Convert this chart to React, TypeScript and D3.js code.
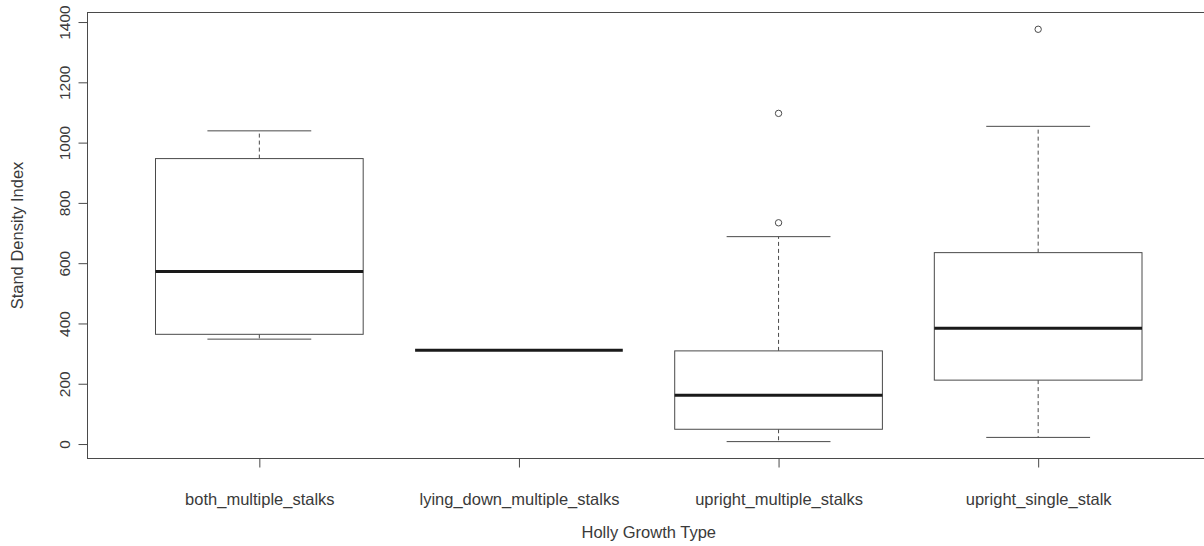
import React, { useEffect, useRef } from "react";
import * as d3 from "d3";

const categories = [
  "both_multiple_stalks",
  "lying_down_multiple_stalks",
  "upright_multiple_stalks",
  "upright_single_stalk",
];
const whiskerLow = [348, 311, 8, 22];
const q1 = [364, 311, 49, 212];
const medians = [572, 311, 162, 384];
const q3 = [947, 311, 309, 635];
const whiskerHigh = [1039, 311, 688, 1054];
const outliers = [[], [], [734, 1097], [1376]];
const yTicks = [0, 200, 400, 600, 800, 1000, 1200, 1400];

const W = 1204;
const H = 546;

const App = () => {
  const svgRef = useRef(null);

  useEffect(() => {
    drawChart();
  }, []);

  const drawChart = () => {
    const svg = d3.select(svgRef.current);
    svg.selectAll("*").remove();

    const font = "'Liberation Sans', Arial, sans-serif";
    const txt = "#3a3a3a";
    const line = "#4a4a4a";

    // R style: xlim 0.5..n+0.5 padded 4%
    const x = d3.scaleLinear().domain([0.34, 4.66]).range([88, 1209.5]);
    const y = d3.scaleLinear().domain([-48, 1430]).range([458.5, 13]);
    const unit = x(2) - x(1);
    const boxW = unit * 0.8;
    const capW = boxW / 2;

    const data = categories.map((c, i) => ({
      name: c,
      pos: i + 1,
      lo: whiskerLow[i],
      q1: q1[i],
      med: medians[i],
      q3: q3[i],
      hi: whiskerHigh[i],
      out: outliers[i],
    }));

    const g = svg.selectAll(".box").data(data).enter().append("g");

    // whiskers (dashed)
    g.append("line")
      .attr("x1", (d) => x(d.pos))
      .attr("x2", (d) => x(d.pos))
      .attr("y1", (d) => y(d.q3))
      .attr("y2", (d) => y(d.hi))
      .attr("stroke", line)
      .attr("stroke-dasharray", "4,3");
    g.append("line")
      .attr("x1", (d) => x(d.pos))
      .attr("x2", (d) => x(d.pos))
      .attr("y1", (d) => y(d.q1))
      .attr("y2", (d) => y(d.lo))
      .attr("stroke", line)
      .attr("stroke-dasharray", "4,3");

    // staples
    g.append("line")
      .attr("x1", (d) => x(d.pos) - capW / 2)
      .attr("x2", (d) => x(d.pos) + capW / 2)
      .attr("y1", (d) => y(d.hi))
      .attr("y2", (d) => y(d.hi))
      .attr("stroke", line);
    g.append("line")
      .attr("x1", (d) => x(d.pos) - capW / 2)
      .attr("x2", (d) => x(d.pos) + capW / 2)
      .attr("y1", (d) => y(d.lo))
      .attr("y2", (d) => y(d.lo))
      .attr("stroke", line);

    // boxes
    g.append("rect")
      .attr("x", (d) => x(d.pos) - boxW / 2)
      .attr("width", boxW)
      .attr("y", (d) => y(d.q3))
      .attr("height", (d) => Math.max(0, y(d.q1) - y(d.q3)))
      .attr("fill", "white")
      .attr("stroke", line);

    // medians
    g.append("line")
      .attr("x1", (d) => x(d.pos) - boxW / 2)
      .attr("x2", (d) => x(d.pos) + boxW / 2)
      .attr("y1", (d) => y(d.med))
      .attr("y2", (d) => y(d.med))
      .attr("stroke", "#1a1a1a")
      .attr("stroke-width", 3);

    // outliers
    g.selectAll("circle")
      .data((d) => d.out.map((v) => ({ pos: d.pos, v })))
      .enter()
      .append("circle")
      .attr("cx", (d) => x(d.pos))
      .attr("cy", (d) => y(d.v))
      .attr("r", 3.2)
      .attr("fill", "none")
      .attr("stroke", line);

    // plot frame (right edge falls just off the picture)
    svg
      .append("rect")
      .attr("x", 87.5)
      .attr("y", 12.5)
      .attr("width", 1210 - 87.5)
      .attr("height", 458.5 - 12.5)
      .attr("fill", "none")
      .attr("stroke", line);

    // y axis
    const yAxis = svg
      .append("g")
      .attr("transform", "translate(87.5,0)")
      .call(d3.axisLeft(y).tickValues(yTicks).tickSize(9).tickFormat(d3.format("d")));
    yAxis.select(".domain").remove();
    yAxis.selectAll("line").attr("stroke", line);
    yAxis
      .selectAll(".tick text")
      .attr("x", 0)
      .attr("y", 0)
      .attr("dy", "0.35em")
      .attr("transform", "translate(-23,0) rotate(-90)")
      .attr("text-anchor", "middle")
      .attr("font-family", font)
      .attr("font-size", 15.5)
      .attr("fill", txt);

    // x axis
    const xAxis = svg
      .append("g")
      .attr("transform", "translate(0,458.5)")
      .call(
        d3
          .axisBottom(x)
          .tickValues(data.map((d) => d.pos))
          .tickSize(9)
          .tickFormat((d, i) => categories[i])
      );
    xAxis.select(".domain").remove();
    xAxis.selectAll("line").attr("stroke", line);
    xAxis
      .selectAll("text")
      .attr("y", 0)
      .attr("dy", 46)
      .attr("font-family", font)
      .attr("font-size", 16.5)
      .attr("fill", txt);

    // titles
    svg
      .append("text")
      .attr("x", (88 + 1209.5) / 2)
      .attr("y", 538)
      .attr("text-anchor", "middle")
      .attr("font-family", font)
      .attr("font-size", 16.5)
      .attr("fill", txt)
      .text("Holly Growth Type");
    svg
      .append("text")
      .attr("transform", `translate(23,${(12.5 + 458.5) / 2}) rotate(-90)`)
      .attr("text-anchor", "middle")
      .attr("font-family", font)
      .attr("font-size", 16.5)
      .attr("fill", txt)
      .text("Stand Density Index");
  };

  return (
    <div style={{ position: "absolute", left: 0, top: 0, width: W, height: H, background: "white" }}>
      <svg ref={svgRef} width={W} height={H}></svg>
    </div>
  );
};

export default App;
